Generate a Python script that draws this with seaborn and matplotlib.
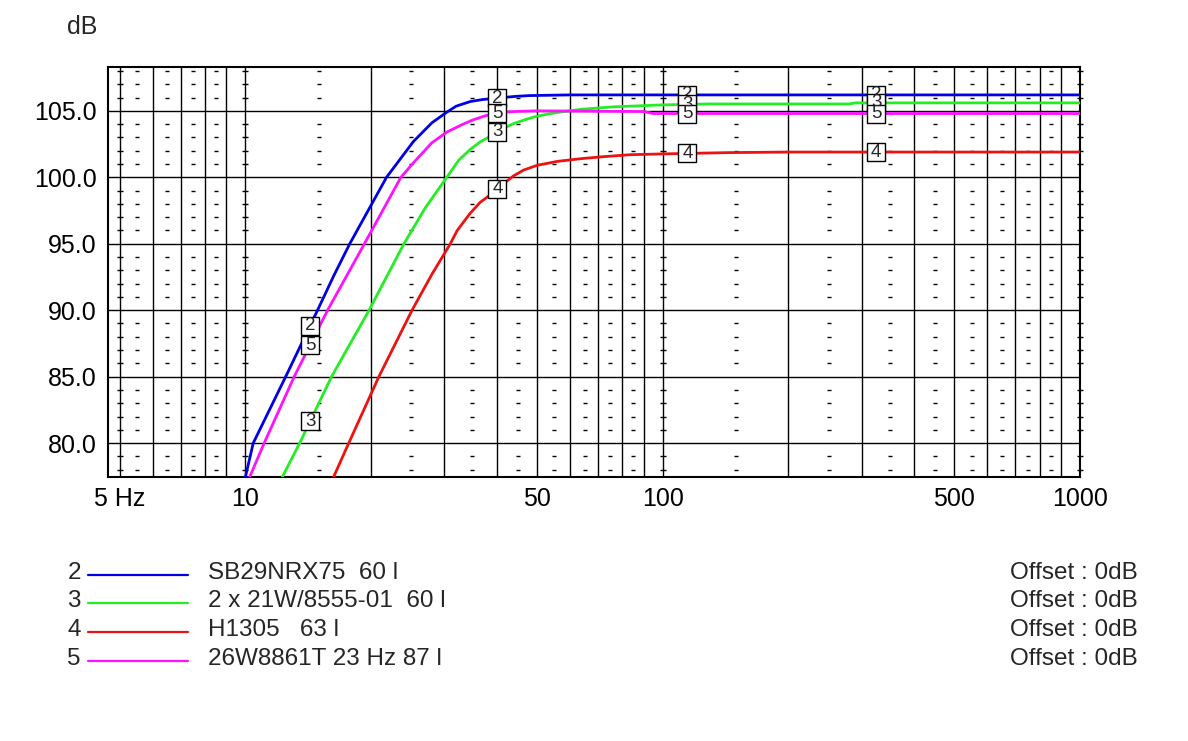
import numpy as np
import pandas as pd
import matplotlib
matplotlib.use("Agg")
import matplotlib.pyplot as plt
from matplotlib.lines import Line2D
import seaborn as sns

# SPL curves (Hz, dB)
freq_2 = [10, 10.45, 12.5, 14.9, 16.3, 17.8, 21.8, 25.3, 28, 30.4, 32, 34.6, 37, 40, 44, 48, 60, 100, 1000]
db_2 = [77.4, 80, 85, 90, 92.6, 95, 100, 102.7, 104.1, 104.9, 105.35, 105.7, 105.85, 105.95, 106.08, 106.15, 106.2, 106.2, 106.2]

freq_3 = [12.2, 13.5, 16.1, 19.8, 24, 27, 30.4, 32.5, 34.6, 36.5, 38.7, 41, 44, 47, 50, 54, 58, 64, 76, 100, 130, 280, 290, 1000]
db_3 = [77.3, 80, 85, 90, 95, 97.7, 100, 101.3, 102.1, 102.65, 103.1, 103.6, 104.05, 104.35, 104.6, 104.8, 104.95, 105.12, 105.3, 105.45, 105.52, 105.52, 105.6, 105.6]

freq_4 = [16.2, 17.7, 20.9, 25.1, 28, 31, 32.2, 34.6, 36.5, 38.7, 40, 43.9, 46.5, 50, 56, 63.6, 72, 83.6, 100, 145, 200, 1000]
db_4 = [77.3, 80, 85, 90, 92.7, 95, 96, 97.3, 98.1, 98.7, 99.1, 100.1, 100.55, 100.9, 101.2, 101.4, 101.55, 101.7, 101.76, 101.86, 101.9, 101.9]

freq_5 = [10.2, 11.1, 13.1, 15.75, 19.3, 23.6, 25.3, 28, 30.4, 33, 35, 37.5, 40, 42.5, 45, 50, 90, 95, 1000]
db_5 = [77.3, 80, 85, 90, 95, 100, 101.1, 102.6, 103.4, 103.95, 104.3, 104.62, 104.82, 104.92, 104.96, 105.0, 104.95, 104.8, 104.8]

curve_ids = ["2", "3", "4", "5"]
curve_names = ["SB29NRX75  60 l", "2 x 21W/8555-01  60 l", "H1305   63 l", "26W8861T 23 Hz 87 l"]
curve_colors = ["#0000e6", "#22ee22", "#ee1111", "#ff11ff"]
offset_text = ["Offset : 0dB", "Offset : 0dB", "Offset : 0dB", "Offset : 0dB"]

x_tick_values = [5, 10, 50, 100, 500, 1000]
x_tick_labels = ["5 Hz", "10", "50", "100", "500", "1000"]
y_tick_values = [80, 85, 90, 95, 100, 105]
label_freqs = [14.3, 40.2, 114.7, 325]

sns.set_style("white")
plt.rcParams['font.family'] = ['Liberation Sans', 'DejaVu Sans']

all_freq = [freq_2, freq_3, freq_4, freq_5]
all_db = [db_2, db_3, db_4, db_5]
frames = []
for cid, f, d in zip(curve_ids, all_freq, all_db):
    frames.append(pd.DataFrame({"freq": f, "dB": d, "curve": cid}))
df = pd.concat(frames, ignore_index=True)

W, H = 1188, 741
fig = plt.figure(figsize=(W / 100, H / 100), dpi=100)
ax = fig.add_axes([108 / W, 1 - 477 / H, 972 / W, 410 / H])
ax.set_xscale("log")
ymin, ymax = 77.45, 108.3
ax.set_xlim(4.69, 1000)
ax.set_ylim(ymin, ymax)

# vertical grid at 5..9, 10..90, 100..1000
minor_x = [5, 6, 7, 8, 9] + [k * 10 for k in range(1, 10)] + [k * 100 for k in range(1, 11)]
minor_x = [v for v in minor_x if v not in x_tick_values]
ax.set_xticks(x_tick_values)
ax.set_xticklabels(x_tick_labels)
ax.set_xticks(minor_x, minor=True)
ax.set_xticklabels([], minor=True)
ax.set_yticks(y_tick_values)
ax.set_yticklabels(["%.1f" % v for v in y_tick_values])
ax.grid(True, which="both", axis="x", color="black", lw=1)
ax.grid(True, which="major", axis="y", color="black", lw=1)
ax.tick_params(axis="both", which="both", length=0)
ax.tick_params(axis="x", which="major", pad=7, labelsize=18, colors="black")
ax.tick_params(axis="y", which="major", pad=8, labelsize=18, colors="black")
for s in ax.spines.values():
    s.set_color("black")
    s.set_linewidth(1.5)

# small dB dashes
minor_db = [v for v in range(78, 109) if v % 5 != 0]
dec_x = [5, 10, 100, 1000]
xs = [x for x in dec_x for _ in minor_db]
ys = [y for _ in dec_x for y in minor_db]
ax.plot(xs, ys, ls="none", marker="_", ms=4.5, mew=1, color="black", clip_on=False, zorder=2)
cell_x = [5.5, 6.5, 7.5, 8.5] + [(k + 0.5) * 10 for k in range(1, 9)] + [(k + 0.5) * 100 for k in range(1, 9)]
xs = [x for x in cell_x for _ in minor_db]
ys = [y for _ in cell_x for y in minor_db]
ax.plot(xs, ys, ls="none", marker="_", ms=3.5, mew=1, color="black", zorder=2)

sns.lineplot(data=df, x="freq", y="dB", hue="curve", palette=dict(zip(curve_ids, curve_colors)),
             estimator=None, sort=False, legend=False, lw=2.0, ax=ax, zorder=3)
ax.set_xlabel("")
ax.set_ylabel("")

# numbered markers on the curves
z = 5
for cid, f, d in zip(curve_ids, all_freq, all_db):
    for lf in label_freqs:
        y = np.interp(np.log10(lf), np.log10(f), d)
        if ymin + 0.5 < y < ymax:
            ax.plot([lf], [y], marker="s", ms=13.5, mfc="white", mec="black", mew=1, zorder=z)
            ax.text(lf, y, cid, ha="center", va="center", fontsize=13.5, zorder=z + 0.5)
    z += 1

fig.text(82 / W, 1 - 27 / H, "dB", ha="center", va="center", fontsize=18)

# legend below the chart
row_y = [573, 601, 630, 659]
for cid, name, col, off, y in zip(curve_ids, curve_names, curve_colors, offset_text, row_y):
    fy = 1 - y / H
    fig.text(81 / W, fy, cid, ha="right", va="center", fontsize=17.5)
    fig.add_artist(Line2D([88 / W, 188 / W], [1 - (y + 2) / H] * 2, color=col, lw=1.6,
                          transform=fig.transFigure))
    fig.text(208 / W, fy, name, ha="left", va="center", fontsize=17.5)
    fig.text(1010 / W, fy, off, ha="left", va="center", fontsize=17.5)

fig.savefig("out.png", dpi=100, facecolor="white")
